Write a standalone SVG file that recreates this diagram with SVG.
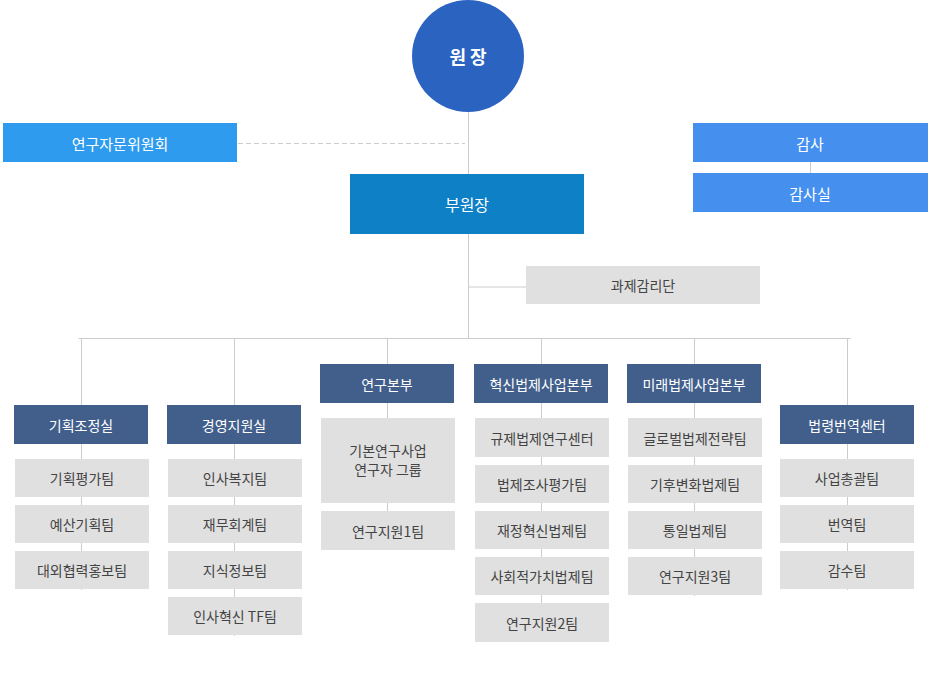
<svg xmlns="http://www.w3.org/2000/svg" width="933" height="680" viewBox="0 0 933 680">
<style>
text{font-family:"Noto Sans CJK KR","Noto Sans",sans-serif;text-anchor:middle;dominant-baseline:central}
.w{fill:#fff;font-size:15px}
.h{fill:#425f8c}.g{fill:#e0e0e0}
.t{fill:#444;font-size:14px}
.l{stroke:#cccccc;stroke-width:1;fill:none}
</style>
<rect width="933" height="680" fill="#fff"/>
<g id="connectors">
<path class="l" d="M468.5 112V338M468.5 287H526M78.5 338.5H850.5M810.5 162V173"/>
<path class="l" d="M238 143.5H465" stroke-dasharray="5,3"/>
<path class="l" d="M81.5 338V590M234.5 338V636M387.5 338V550M541.5 338V642M694.5 338V596M847.5 338V590"/>
</g>
<g id="n-director"><circle cx="468" cy="56" r="56" fill="#2b63c1"/><text x="468" y="56" class="w" font-size="18" font-weight="bold" style="font-size:18px">원  장</text></g>
<g id="n-advisory"><rect x="3" y="123" width="234" height="39" fill="#2e9bef"/><text x="120" y="143" class="w">연구자문위원회</text></g>
<g id="n-audit"><rect x="693" y="123" width="235" height="39" fill="#4590ef"/><text x="810" y="143" class="w">감사</text></g>
<g id="n-auditoffice"><rect x="693" y="173" width="235" height="39" fill="#4590ef"/><text x="810" y="193" class="w">감사실</text></g>
<g id="n-vice"><rect x="350" y="174" width="234" height="60" fill="#0e80c6"/><text x="467" y="204" class="w" style="font-size:16px">부원장</text></g>
<g id="n-supervision"><rect x="526" y="266" width="234" height="38" class="g"/><text x="643" y="285" class="t">과제감리단</text></g>

<g id="c1">
<rect x="14" y="405" width="134" height="39" class="h"/><text x="81" y="424.5" class="w" style="font-size:14px">기획조정실</text>
<rect x="15" y="459" width="134" height="38" class="g"/><text x="82" y="478" class="t">기획평가팀</text>
<rect x="15" y="505" width="134" height="38" class="g"/><text x="82" y="524" class="t">예산기획팀</text>
<rect x="15" y="551" width="134" height="38" class="g"/><text x="82" y="570" class="t">대외협력홍보팀</text>
</g>
<g id="c2">
<rect x="167" y="405" width="134" height="39" class="h"/><text x="234" y="424.5" class="w" style="font-size:14px">경영지원실</text>
<rect x="168" y="459" width="134" height="38" class="g"/><text x="235" y="478" class="t">인사복지팀</text>
<rect x="168" y="505" width="134" height="38" class="g"/><text x="235" y="524" class="t">재무회계팀</text>
<rect x="168" y="551" width="134" height="38" class="g"/><text x="235" y="570" class="t">지식정보팀</text>
<rect x="168" y="597" width="134" height="38" class="g"/><text x="235" y="616" class="t">인사혁신 TF팀</text>
</g>
<g id="c3">
<rect x="320" y="364" width="134" height="39" class="h"/><text x="387" y="383.5" class="w" style="font-size:14px">연구본부</text>
<rect x="321" y="418" width="134" height="85" class="g"/><text x="388" y="450" class="t">기본연구사업</text><text x="388" y="469" class="t">연구자 그룹</text>
<rect x="321" y="511" width="134" height="39" class="g"/><text x="388" y="530.5" class="t">연구지원1팀</text>
</g>
<g id="c4">
<rect x="474" y="364" width="134" height="39" class="h"/><text x="541" y="383.5" class="w" style="font-size:14px">혁신법제사업본부</text>
<rect x="475" y="418" width="134" height="39" class="g"/><text x="542" y="437.5" class="t">규제법제연구센터</text>
<rect x="475" y="465" width="134" height="38" class="g"/><text x="542" y="484" class="t">법제조사평가팀</text>
<rect x="475" y="511" width="134" height="38" class="g"/><text x="542" y="530" class="t">재정혁신법제팀</text>
<rect x="475" y="557" width="134" height="38" class="g"/><text x="542" y="576" class="t">사회적가치법제팀</text>
<rect x="475" y="603" width="134" height="39" class="g"/><text x="542" y="622.5" class="t">연구지원2팀</text>
</g>
<g id="c5">
<rect x="627" y="364" width="134" height="39" class="h"/><text x="694" y="383.5" class="w" style="font-size:14px">미래법제사업본부</text>
<rect x="628" y="418" width="134" height="39" class="g"/><text x="695" y="437.5" class="t">글로벌법제전략팀</text>
<rect x="628" y="465" width="134" height="38" class="g"/><text x="695" y="484" class="t">기후변화법제팀</text>
<rect x="628" y="511" width="134" height="38" class="g"/><text x="695" y="530" class="t">통일법제팀</text>
<rect x="628" y="557" width="134" height="38" class="g"/><text x="695" y="576" class="t">연구지원3팀</text>
</g>
<g id="c6">
<rect x="780" y="405" width="134" height="39" class="h"/><text x="847" y="424.5" class="w" style="font-size:14px">법령번역센터</text>
<rect x="780" y="459" width="134" height="38" class="g"/><text x="847" y="478" class="t">사업총괄팀</text>
<rect x="780" y="505" width="134" height="38" class="g"/><text x="847" y="524" class="t">번역팀</text>
<rect x="780" y="551" width="134" height="38" class="g"/><text x="847" y="570" class="t">감수팀</text>
</g>
</svg>
